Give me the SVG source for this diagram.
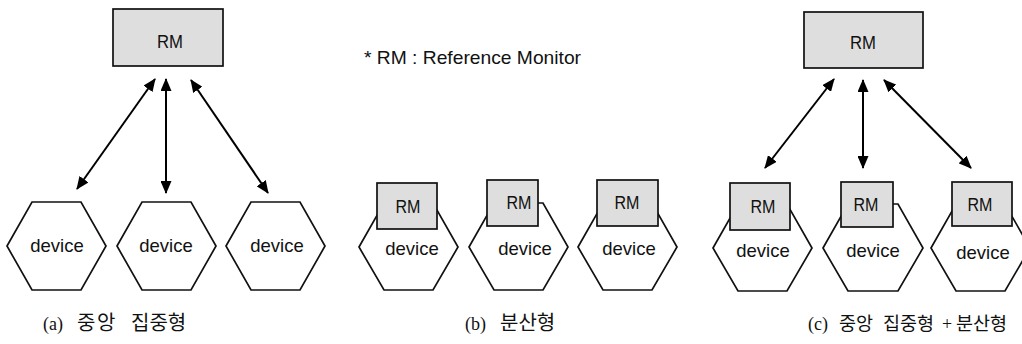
<svg xmlns="http://www.w3.org/2000/svg" width="1022" height="344" viewBox="0 0 1022 344">
<defs>
<marker id="ah" viewBox="0 0 13 11" refX="12" refY="5.5" markerWidth="13" markerHeight="11" markerUnits="userSpaceOnUse" orient="auto-start-reverse">
<path d="M0,0 L13,5.5 L0,11 z" fill="#000"/>
</marker>
</defs>
<style>
.bg{fill:#fff}
.rm{fill:#dedede;stroke:#111;stroke-width:1.7}
.hex{fill:#fff;stroke:#111;stroke-width:1.7}
.t{font-family:"Liberation Sans",Arial,sans-serif;font-size:18.5px;fill:#111;text-anchor:middle}
.cap{font-family:"Liberation Serif","Noto Sans CJK KR",serif;font-size:18px;fill:#111}
.ko{font-family:"Noto Sans CJK KR","Liberation Serif",serif;font-size:20px}
.ko2{font-family:"Noto Sans CJK KR","Liberation Serif",serif;font-size:18.5px}
.ar{stroke:#000;stroke-width:2;fill:none;marker-start:url(#ah);marker-end:url(#ah)}
</style>
<rect class="bg" x="0" y="0" width="1022" height="344"/>

<!-- Panel (a) -->
<g id="a-rm"><rect class="rm" x="113" y="9" width="110" height="57"/><text class="t" x="170" y="48" textLength="26" lengthAdjust="spacingAndGlyphs">RM</text></g>
<g id="a-dev1"><polygon class="hex" points="7,246 32,202 81,202 106,246 81,290 32,290"/><text class="t" x="57" y="252">device</text></g>
<g id="a-dev2"><polygon class="hex" points="117,246 142,202 191,202 216,246 191,290 142,290"/><text class="t" x="166" y="252">device</text></g>
<g id="a-dev3"><polygon class="hex" points="226,246 251,202 300,202 325,246 300,290 251,290"/><text class="t" x="277" y="252">device</text></g>

<!-- Panel (b) -->
<g id="legend"><text x="364" y="64" textLength="217" lengthAdjust="spacingAndGlyphs" style="font-family:'Liberation Sans',Arial,sans-serif;font-size:18.5px;fill:#111">* RM : Reference Monitor</text></g>
<g id="b-dev1"><polygon class="hex" points="359,247 384,203 433,203 458,247 433,290 384,290"/><rect class="rm" x="377" y="183" width="60" height="46"/><text class="t" x="408" y="213" textLength="25" lengthAdjust="spacingAndGlyphs">RM</text><text class="t" x="412" y="255">device</text></g>
<g id="b-dev2"><polygon class="hex" points="469,247 494,203 543,203 568,247 543,290 494,290"/><rect class="rm" x="487" y="180" width="51" height="46"/><text class="t" x="519" y="209" textLength="25" lengthAdjust="spacingAndGlyphs">RM</text><text class="t" x="525" y="255">device</text></g>
<g id="b-dev3"><polygon class="hex" points="578,247 603,203 652,203 677,247 652,290 603,290"/><rect class="rm" x="597" y="180" width="61" height="46"/><text class="t" x="627" y="209" textLength="25" lengthAdjust="spacingAndGlyphs">RM</text><text class="t" x="629" y="255">device</text></g>

<!-- Panel (c) -->
<g id="c-rm"><rect class="rm" x="804" y="12" width="119" height="56"/><text class="t" x="863" y="49" textLength="26" lengthAdjust="spacingAndGlyphs">RM</text></g>
<g id="c-dev1"><polygon class="hex" points="713,248 738,204 787,204 812,248 787,291 738,291"/><rect class="rm" x="730" y="183" width="60" height="47"/><text class="t" x="763" y="213" textLength="25" lengthAdjust="spacingAndGlyphs">RM</text><text class="t" x="763" y="257">device</text></g>
<g id="c-dev2"><polygon class="hex" points="823,248 848,204 898,204 923,248 898,291 848,291"/><rect class="rm" x="841" y="182" width="52" height="45"/><text class="t" x="866" y="211" textLength="25" lengthAdjust="spacingAndGlyphs">RM</text><text class="t" x="873" y="257">device</text></g>
<g id="c-dev3"><polygon class="hex" points="931,248 956,204 1005,204 1030,248 1005,291 956,291"/><rect class="rm" x="952" y="182" width="60" height="44"/><text class="t" x="980" y="211" textLength="25" lengthAdjust="spacingAndGlyphs">RM</text><text class="t" x="983" y="259">device</text></g>

<!-- Connectors -->
<g id="connectors">
<line class="ar" x1="155" y1="79" x2="77" y2="189"/>
<line class="ar" x1="166" y1="79" x2="166" y2="193"/>
<line class="ar" x1="191" y1="80" x2="268" y2="193"/>
<line class="ar" x1="834" y1="79" x2="765" y2="168"/>
<line class="ar" x1="863" y1="80" x2="863" y2="168"/>
<line class="ar" x1="884" y1="80" x2="971" y2="168"/>
</g>

<!-- Captions -->
<g id="captions">
<text class="cap" y="330"><tspan x="43">(a)</tspan><tspan class="ko" x="77" letter-spacing="1.5">중앙</tspan><tspan class="ko" x="131">집중형</tspan></text>
<text class="cap" y="330"><tspan x="465">(b)</tspan><tspan class="ko" x="500">분산형</tspan></text>
<text class="cap" y="330"><tspan x="808">(c)</tspan><tspan class="ko2" x="839">중앙</tspan><tspan class="ko2" x="883">집중형</tspan><tspan x="942">+</tspan><tspan class="ko2" x="956">분산형</tspan></text>
</g>
</svg>
